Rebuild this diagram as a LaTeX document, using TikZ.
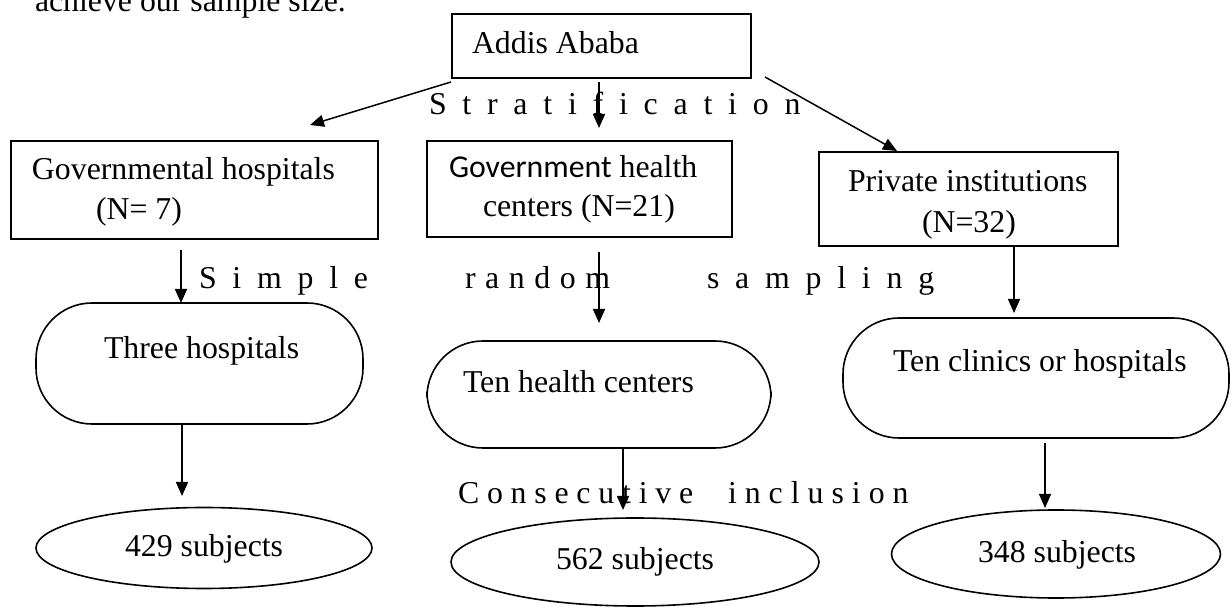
\documentclass[tikz,border=0pt]{standalone}
\usepackage{fontspec}
\setmainfont{Liberation Serif}
\newfontfamily\calibri{Carlito}
\usetikzlibrary{arrows.meta,shapes.geometric,fit}
\newdimen\spgap
\newcommand\spword[2]{\spgap=#1\relax\spwordA#2\relax}
\def\spwordA#1{\ifx\relax#1\else#1\kern\spgap\relax\expandafter\spwordA\fi}
\begin{document}
\begin{tikzpicture}[x=0.5pt,y=-0.5pt,
  font=\fontsize{15.9pt}{19pt}\selectfont,
  txt/.style={anchor=base west, inner sep=0, outer sep=0},
  boxn/.style={draw, line width=1pt, inner sep=0, fit=#1},
  pill/.style={draw, line width=0.8pt, rounded corners=28pt, inner sep=0, fit=#1},
  oval/.style={draw, ellipse, line width=0.8pt, inner sep=0},
  arr/.style={-{Triangle[length=7pt,width=6pt]}, line width=0.75pt}]
\useasboundingbox (0,0) rectangle (1232,608);

\node[txt] (head) at (35,12) {achieve our sample size.};

% top box
\coordinate (p1) at (452,14); \coordinate (p2) at (751,78);
\node[boxn={(p1)(p2)}] (addis) {};
\node[txt] (addist) at (472,54) {Addis Ababa};

% strata boxes
\coordinate (g1) at (11,141); \coordinate (g2) at (378,239);
\node[boxn={(g1)(g2)}] (gov) {};
\node[txt] (govt1) at (32,180) {Governmental hospitals};
\node[txt] (govt2) at (96,220) {(N= 7)};

\coordinate (h1) at (427,141); \coordinate (h2) at (732,237);
\node[boxn={(h1)(h2)}] (hc) {};
\node[txt] (hct1) at (449,178) {{\calibri Government} health};
\node[txt] (hct2) at (483,217) {centers (N=21)};

\coordinate (r1) at (819,152); \coordinate (r2) at (1118,246);
\node[boxn={(r1)(r2)}] (priv) {};
\node[txt] (privt1) at (848,192) {Private institutions};
\node[txt] (privt2) at (922,233) {(N=32)};

% sampled units
\coordinate (t1) at (36,303); \coordinate (t2) at (363,424);
\node[pill={(t1)(t2)}] (three) {};
\node[txt] (threet) at (104,359) {Three hospitals};

\coordinate (c1) at (427,341); \coordinate (c2) at (771,448);
\node[pill={(c1)(c2)}] (tenhc) {};
\node[txt] (tenhct) at (463,393) {Ten health centers};

\coordinate (k1) at (843,318); \coordinate (k2) at (1229,438);
\node[pill={(k1)(k2)}] (tencl) {};
\node[txt] (tenclt) at (893,372) {Ten clinics or hospitals};

% subjects
\node[oval, minimum width=168pt, minimum height=40.5pt] (s429) at (204,548) {};
\node[txt] (s429t) at (125,557) {429 subjects};
\node[oval, minimum width=184pt, minimum height=44pt] (s562) at (635,562) {};
\node[txt] (s562t) at (556,570) {562 subjects};
\node[oval, minimum width=164.5pt, minimum height=44pt] (s348) at (1056,554) {};
\node[txt] (s348t) at (978,563) {348 subjects};

% arrow end points
\coordinate (a1s) at (451,82); \coordinate (a1e) at (310,125);
\coordinate (a2s) at (599,82); \coordinate (a2e) at (599,128);
\coordinate (a3s) at (765,77); \coordinate (a3e) at (897,151);
\coordinate (b1s) at (181,250); \coordinate (b1e) at (181,303);
\coordinate (b2s) at (599,252); \coordinate (b2e) at (599,323);
\coordinate (b3s) at (1014,246); \coordinate (b3e) at (1014,313);
\coordinate (c1s) at (182,425); \coordinate (c1e) at (182,496);
\coordinate (c2s) at (623,448); \coordinate (c2e) at (623,510);
\coordinate (c3s) at (1045,443); \coordinate (c3e) at (1045,508);

\draw[arr] (a1s) -- (a1e);
\draw[arr] (a2s) -- (a2e);
\draw[arr] (a3s) -- (a3e);
\draw[arr] (b1s) -- (b1e);
\draw[arr] (b2s) -- (b2e);
\draw[arr] (b3s) -- (b3e);
\draw[arr] (c1s) -- (c1e);
\draw[arr] (c2s) -- (c2e);
\draw[arr] (c3s) -- (c3e);

% spaced labels
\node[txt] (strat) at (429,115) {\spword{7.9pt}{Stratification}};
\node[txt] (simple) at (199,289) {\spword{7.9pt}{Simple}};
\node[txt] (random) at (465,289) {\spword{4.8pt}{random}};
\node[txt] (sampling) at (707,289) {\spword{7.9pt}{sampling}};
\node[txt] (consec) at (458,504) {\spword{3.9pt}{Consecutive}};
\node[txt] (incl) at (728,504) {\spword{4pt}{inclusion}};
\end{tikzpicture}
\end{document}
